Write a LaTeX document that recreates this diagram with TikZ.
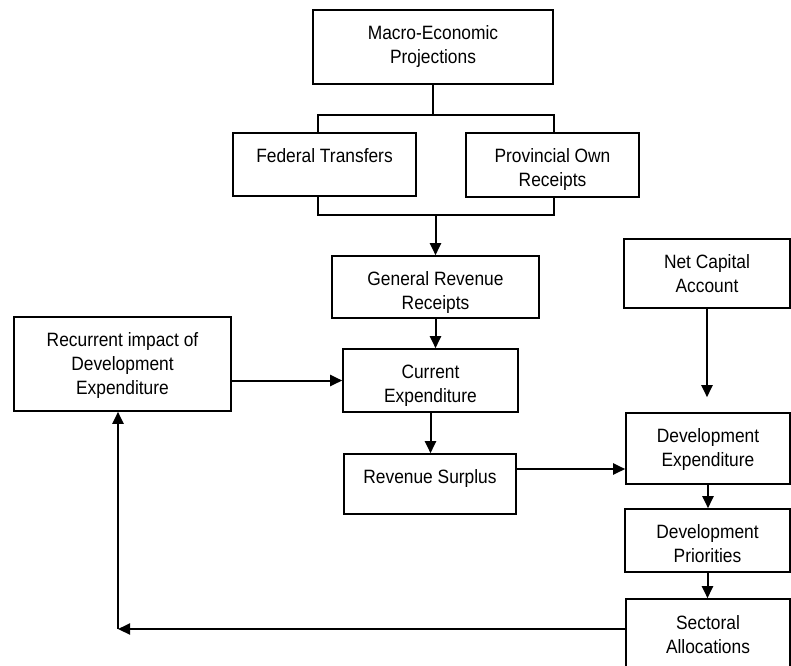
\documentclass[tikz,border=0pt]{standalone}
\usepackage{fontspec}
\setmainfont{Liberation Sans}[FakeStretch=0.9]
\usetikzlibrary{arrows.meta}
\newcommand{\boxtext}[3]{\parbox[c][#2][t]{#1}{\centering\vspace*{16pt}#3}}

\begin{document}
\begin{tikzpicture}[x=1pt, y=-1pt,
    box/.style={draw, line width=1.6pt, inner sep=0pt, font=\fontsize{19.3}{24}\selectfont},
    link/.style={line width=1.6pt},
    arr/.style={line width=2pt, -{Triangle[length=12pt,width=11pt]}}]
    \useasboundingbox (0,0) rectangle (791,665);
    \node[box] (macro) at (433,47) {\boxtext{240pt}{74pt}{Macro-Economic\\Projections}};
    \node[box] (federal) at (324.5,164.5) {\boxtext{183pt}{63pt}{Federal Transfers}};
    \node[box] (provincial) at (552.5,165) {\boxtext{173pt}{64pt}{Provincial Own\\Receipts}};
    \node[box] (general) at (435.5,287) {\boxtext{207pt}{62pt}{General Revenue\\Receipts}};
    \node[box] (current) at (430.5,380.5) {\boxtext{175pt}{63pt}{Current\\Expenditure}};
    \node[box] (recurrent) at (122.5,364) {\boxtext{217pt}{94pt}{Recurrent impact of\\Development\\Expenditure}};
    \node[box] (surplus) at (430,484) {\boxtext{172pt}{60pt}{Revenue Surplus}};
    \node[box] (capital) at (707,273.5) {\boxtext{166pt}{69pt}{Net Capital\\Account}};
    \node[box] (devexp) at (708,448.5) {\boxtext{164pt}{71pt}{Development\\Expenditure}};
    \node[box] (priorities) at (707.5,540.5) {\boxtext{165pt}{63pt}{Development\\Priorities}};
    \node[box] (sectoral) at (708,644.5) {\boxtext{164pt}{91pt}{Sectoral\\Allocations}};
    % brackets round the two revenue sources
    \coordinate (tl) at (318,115);
    \coordinate (tr) at (554,115);
    \coordinate (bl) at (318,215);
    \coordinate (br) at (554,215);
    \draw[link] (macro.south) -- (macro.south |- tl);
    \draw[link] (tl |- federal.north) -- (tl) -- (tr) -- (tr |- provincial.north);
    \draw[link] (bl |- federal.south) -- (bl) -- (br) -- (br |- provincial.south);
    \draw[arr] (general.north |- bl) -- (general.north);
    \draw[arr] (general.south) -- (general.south |- current.north);
    \draw[arr] (recurrent.east |- current.west) -- (current.west);
    \draw[arr] (current.south) -- (current.south |- surplus.north);
    \draw[arr] ([yshift=15pt]surplus.east) coordinate (s) -- (s -| devexp.west);
    \draw[arr, shorten >=15pt] (capital.south) -- (capital.south |- devexp.north);
    \draw[arr] (devexp.south) -- (devexp.south |- priorities.north);
    \draw[arr] (priorities.south) -- (priorities.south |- sectoral.north);
    % feedback loop
    \coordinate (loop) at (118,629);
    \draw[arr] (sectoral.west |- loop) -- (loop);
    \draw[arr] (loop) -- (loop |- recurrent.south);
\end{tikzpicture}
\end{document}
